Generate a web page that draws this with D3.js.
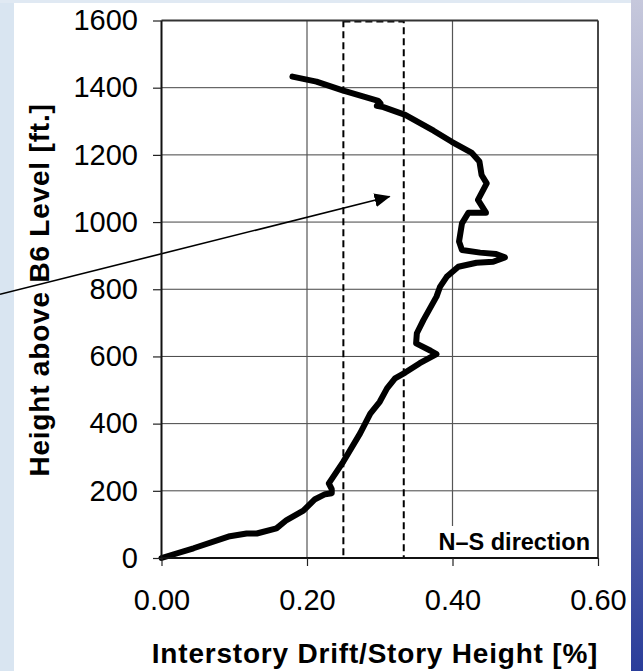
<!DOCTYPE html>
<html>
<head>
<meta charset="utf-8">
<script src="https://cdn.jsdelivr.net/npm/d3@7"></script>
<style>
    body { margin: 0; padding: 0; background: #fff; }
    svg { display: block; }
</style>
</head>
<body>
<div id="chart"></div>
<script>
// interstory drift profile, N-S direction
var driftPct = [0.000, 0.044, 0.094, 0.117, 0.131, 0.158, 0.172, 0.195, 0.211, 0.225,
    0.234, 0.234, 0.230, 0.250, 0.273, 0.287, 0.300, 0.310, 0.321, 0.335,
    0.355, 0.378, 0.370, 0.350, 0.351, 0.360, 0.378, 0.383, 0.392, 0.408,
    0.433, 0.456, 0.472, 0.460, 0.438, 0.413, 0.409, 0.413, 0.422, 0.446,
    0.435, 0.447, 0.440, 0.437, 0.426, 0.399, 0.374, 0.335, 0.305, 0.296,
    0.301, 0.298, 0.250, 0.213, 0.180];
var heightFt = [0, 29, 65, 73, 73, 88, 113, 141, 175, 190,
    193, 205, 222, 287, 371, 430, 465, 505, 535, 552,
    580, 607, 617, 639, 669, 708, 778, 808, 837, 867,
    879, 882, 895, 905, 909, 917, 942, 996, 1028, 1028,
    1066, 1115, 1140, 1180, 1207, 1239, 1272, 1319, 1342, 1346,
    1353, 1361, 1391, 1418, 1433];

var xTicks = [0, 0.2, 0.4, 0.6];
var yTicks = [0, 200, 400, 600, 800, 1000, 1200, 1400, 1600];

// dashed band and arrow annotation, in data units
var bandDrift = [0.25, 0.333];
var bandHeight = [0, 1597];
var arrowFrom = [-0.222, 785];
var arrowTo = [0.3135, 1076];

var W = 643, H = 671;
var margin = {top: 20.5, right: 45, bottom: 113, left: 161.5};
var width = W - margin.left - margin.right;
var height = H - margin.top - margin.bottom;
var font = "'Liberation Sans', Arial, sans-serif";

var svg = d3.select("#chart")
    .append("svg")
        .attr("width", W)
        .attr("height", H);

// slide background strips
var grad = svg.append("defs").append("linearGradient")
    .attr("id", "rightGrad")
    .attr("x1", 0).attr("y1", 0).attr("x2", 0).attr("y2", 1);
grad.append("stop").attr("offset", "0%").attr("stop-color", "#c6c8dc");
grad.append("stop").attr("offset", "50%").attr("stop-color", "#8286b8");
grad.append("stop").attr("offset", "100%").attr("stop-color", "#2a3d9a");

svg.append("rect").attr("x", 0).attr("y", 0).attr("width", 14).attr("height", H).attr("fill", "#d9e5f1");
svg.append("rect").attr("x", 0).attr("y", 0).attr("width", W).attr("height", 3).attr("fill", "#e0e9f3");
svg.append("rect").attr("x", 631).attr("y", 0).attr("width", W - 631).attr("height", H).attr("fill", "url(#rightGrad)");

svg.select("defs").append("marker")
    .attr("id", "head")
    .attr("markerUnits", "userSpaceOnUse")
    .attr("viewBox", "0 -8 16 16")
    .attr("refX", 15).attr("refY", 0)
    .attr("markerWidth", 16).attr("markerHeight", 16)
    .attr("orient", "auto")
  .append("path")
    .attr("d", "M0,-7L16,0L0,7Z")
    .attr("fill", "#000");

var g = svg.append("g")
    .attr("transform", "translate(" + margin.left + "," + margin.top + ")");

var x = d3.scaleLinear().domain([0, 0.6]).range([0, width]);
var y = d3.scaleLinear().domain([0, 1600]).range([height, 0]);

// grid
g.selectAll(".hgrid")
    .data(yTicks.filter(d => d > 0 && d < 1600))
    .enter().append("line")
    .attr("x1", 0).attr("x2", width)
    .attr("y1", d => y(d)).attr("y2", d => y(d))
    .attr("stroke", "#444").attr("stroke-width", 1);

g.selectAll(".vgrid")
    .data(xTicks.filter(d => d > 0 && d < 0.6))
    .enter().append("line")
    .attr("y1", 0).attr("y2", height)
    .attr("x1", d => x(d)).attr("x2", d => x(d))
    .attr("stroke", "#555").attr("stroke-width", 1.2);

// dashed band
g.append("rect")
    .attr("x", x(bandDrift[0]))
    .attr("y", y(bandHeight[1]))
    .attr("width", x(bandDrift[1]) - x(bandDrift[0]))
    .attr("height", y(bandHeight[0]) - y(bandHeight[1]))
    .attr("fill", "none")
    .attr("stroke", "#000")
    .attr("stroke-width", 2)
    .attr("stroke-dasharray", "7,4");

// label box
var label = g.append("text")
    .attr("x", width - 8)
    .attr("y", height - 8)
    .attr("text-anchor", "end")
    .attr("font-family", font)
    .attr("font-weight", "bold")
    .attr("font-size", 23.5)
    .attr("fill", "#000")
    .text("N\u2013S direction");
var bb = label.node().getBBox();
g.insert("rect", "text")
    .attr("x", bb.x - 6)
    .attr("y", bb.y - 3)
    .attr("width", width - (bb.x - 6))
    .attr("height", height - (bb.y - 3))
    .attr("fill", "#fff");

// drift curve
var pts = driftPct.map((d, i) => [d, heightFt[i]]);
var line = d3.line()
    .x(d => x(d[0]))
    .y(d => y(d[1]));

g.append("path")
    .datum(pts)
    .attr("d", line)
    .attr("fill", "none")
    .attr("stroke", "#000")
    .attr("stroke-width", 6)
    .attr("stroke-linejoin", "round")
    .attr("stroke-linecap", "round");

// arrow
g.append("line")
    .attr("x1", x(arrowFrom[0])).attr("y1", y(arrowFrom[1]))
    .attr("x2", x(arrowTo[0])).attr("y2", y(arrowTo[1]))
    .attr("stroke", "#000")
    .attr("stroke-width", 1.6)
    .attr("marker-end", "url(#head)");

// frame
g.append("line").attr("x1", 0).attr("x2", width).attr("y1", 0).attr("y2", 0)
    .attr("stroke", "#333").attr("stroke-width", 1.8);
g.append("line").attr("x1", width).attr("x2", width).attr("y1", 0).attr("y2", height)
    .attr("stroke", "#333").attr("stroke-width", 1.8);

// axes
var xAxis = g.append("g")
    .attr("transform", "translate(0," + height + ")")
    .call(d3.axisBottom(x).tickValues(xTicks).tickFormat(d3.format(".2f")).tickSize(8).tickPadding(23));

var yAxis = g.append("g")
    .call(d3.axisLeft(y).tickValues(yTicks).tickFormat(d3.format("d")).tickSize(8.5).tickPadding(15));

[xAxis, yAxis].forEach(a => {
    a.select(".domain").attr("stroke", "#111").attr("stroke-width", 2);
    a.selectAll(".tick line").attr("stroke", "#222").attr("stroke-width", 1.2);
    a.selectAll(".tick text")
        .attr("font-family", font)
        .attr("font-size", 29)
        .attr("fill", "#000");
});
xAxis.select(".domain").attr("d", "M0,0H" + width);
yAxis.select(".domain").attr("d", "M0,0V" + height);

// titles
svg.append("text")
    .attr("x", 375)
    .attr("y", 663)
    .attr("text-anchor", "middle")
    .attr("font-family", font)
    .attr("font-weight", "bold")
    .attr("font-size", 28)
    .attr("letter-spacing", 0.8)
    .attr("fill", "#000")
    .text("Interstory Drift/Story Height [%]");

svg.append("text")
    .attr("transform", "translate(49,290) rotate(-90)")
    .attr("text-anchor", "middle")
    .attr("font-family", font)
    .attr("font-weight", "bold")
    .attr("font-size", 28)
    .attr("letter-spacing", 0.8)
    .attr("fill", "#000")
    .text("Height above B6 Level [ft.]");
</script>
</body>
</html>
